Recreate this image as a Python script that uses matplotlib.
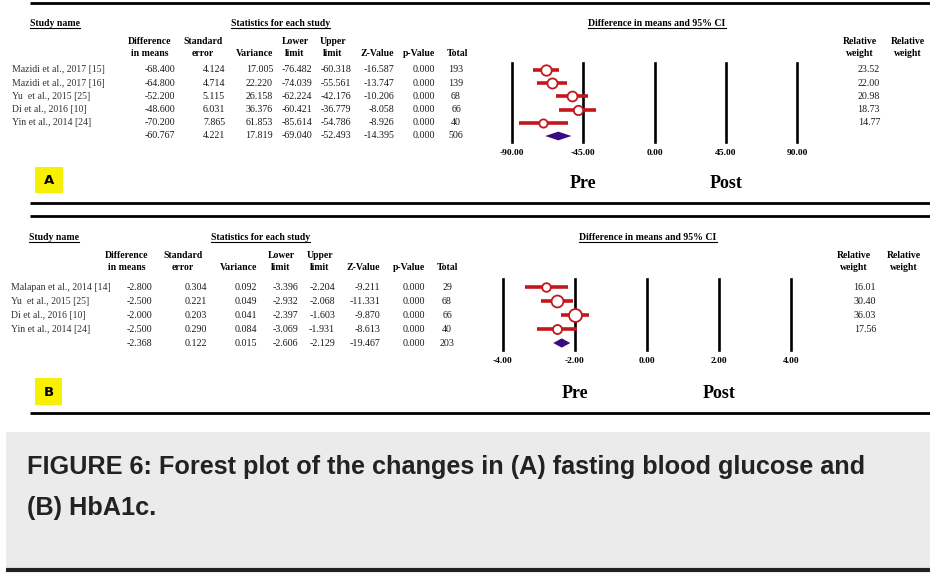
import matplotlib
matplotlib.use("Agg")
import matplotlib.pyplot as plt
import numpy as np
from matplotlib.patches import Rectangle

# Panel A: fasting blood glucose (last entry of each list = pooled row)
studies_a = ["Mazidi et al., 2017 [15]", "Mazidi et al., 2017 [16]", "Yu  et al., 2015 [25]",
             "Di et al., 2016 [10]", "Yin et al., 2014 [24]"]
diff_a = [-68.400, -64.800, -52.200, -48.600, -70.200, -60.767]
se_a = [4.124, 4.714, 5.115, 6.031, 7.865, 4.221]
var_a = [17.005, 22.220, 26.158, 36.376, 61.853, 17.819]
lower_a = [-76.482, -74.039, -62.224, -60.421, -85.614, -69.040]
upper_a = [-60.318, -55.561, -42.176, -36.779, -54.786, -52.493]
z_a = [-16.587, -13.747, -10.206, -8.058, -8.926, -14.395]
p_a = [0.000, 0.000, 0.000, 0.000, 0.000, 0.000]
total_a = [193, 139, 68, 66, 40, 506]
weight_a = [23.52, 22.00, 20.98, 18.73, 14.77]
ticks_a = [-90, -45, 0, 45, 90]

# Panel B: HbA1c
studies_b = ["Malapan et al., 2014 [14]", "Yu  et al., 2015 [25]", "Di et al., 2016 [10]",
             "Yin et al., 2014 [24]"]
diff_b = [-2.800, -2.500, -2.000, -2.500, -2.368]
se_b = [0.304, 0.221, 0.203, 0.290, 0.122]
var_b = [0.092, 0.049, 0.041, 0.084, 0.015]
lower_b = [-3.396, -2.932, -2.397, -3.069, -2.606]
upper_b = [-2.204, -2.068, -1.603, -1.931, -2.129]
z_b = [-9.211, -11.331, -9.870, -8.613, -19.467]
p_b = [0.000, 0.000, 0.000, 0.000, 0.000]
total_b = [29, 68, 66, 40, 203]
weight_b = [16.01, 30.40, 36.03, 17.56]
ticks_b = [-4, -2, 0, 2, 4]

caption_lines = ["FIGURE 6: Forest plot of the changes in (A) fasting blood glucose and",
                 "(B) HbA1c."]

W, H = 930, 573
SERIF = "Liberation Serif"
RED = "#c4161c"
PURPLE = "#3a0a80"

fig = plt.figure(figsize=(W / 100, H / 100), dpi=100)
bg = fig.add_axes([0, 0, 1, 1])
bg.set_xlim(0, W)
bg.set_ylim(H, 0)
bg.axis("off")

underline_me = []


def draw_panel(label, studies, cols, weights, ticks, lay):
    diff, se, var, lo, up, z, p, tot = cols
    # section titles
    t1 = bg.text(lay["name_x0"], lay["title_y"], "Study name", family=SERIF, weight="bold",
                 fontsize=7.0, ha="left", va="center")
    t2 = bg.text(lay["stat_x0"], lay["title_y"], "Statistics for each study", family=SERIF,
                 weight="bold", fontsize=7.0, ha="left", va="center")
    t3 = bg.text(lay["ci_cx"], lay["title_y"], "Difference in means and 95% CI", family=SERIF,
                 weight="bold", fontsize=7.0, ha="center", va="center")
    underline_me.extend([t1, t2, t3])

    # column headers
    hk = dict(family=SERIF, weight="bold", fontsize=7.0, va="center")
    for (x, ha, top, bot) in lay["headers"]:
        if top:
            bg.text(x, lay["h1"], top, ha=ha, **hk)
        bg.text(x, lay["h2"], bot, ha=ha, **hk)
    for x in lay["rw_cx"]:
        bg.text(x, lay["h1"], "Relative", ha="center", **hk)
        bg.text(x, lay["h2"], "weight", ha="center", **hk)

    # table body
    dk = dict(family=SERIF, fontsize=7.2, va="center", color="#1a1a1a")
    n = len(diff)
    for i in range(n):
        y = lay["row0"] + lay["dy"] * i
        if i < len(studies):
            bg.text(lay["name_x"], y, studies[i], ha="left", family=SERIF, fontsize=7.0,
                    va="center", color="#333333")
            bg.text(lay["rw_x"], y, f"{weights[i]:.2f}", ha="right", **dk)
        vals = [diff[i], se[i], var[i], lo[i], up[i], z[i], p[i]]
        for x, v in zip(lay["col_x"], vals):
            bg.text(x, y, f"{v:.3f}", ha="right", **dk)
        bg.text(lay["tot_x"], y, f"{tot[i]}", ha="center", **dk)

    # forest plot axes
    x0, x1 = lay["fx"]
    y0, y1 = lay["fy"]
    ax = fig.add_axes([x0 / W, 1 - y1 / H, (x1 - x0) / W, (y1 - y0) / H])
    ax.set_xlim(ticks[0], ticks[-1])
    ax.set_ylim((y1 - lay["row0"]) / lay["dy"], (y0 - lay["row0"]) / lay["dy"])
    ax.axis("off")
    ax.patch.set_alpha(0)
    for t in ticks:
        ax.axvline(t, color="black", lw=1.9, zorder=1, clip_on=False)
    rows = np.arange(len(studies))
    for i in rows:
        ax.plot([lo[i], up[i]], [i, i], color=RED, lw=2.6, solid_capstyle="butt", zorder=2,
                clip_on=False)
        ax.plot(diff[i], i, "o", ms=1.55 * np.sqrt(weights[i]), mfc="white", mec=RED,
                mew=1.3, zorder=3, clip_on=False)
    k = len(studies)
    hh = lay["dh"]
    ax.fill([lo[k], diff[k], up[k], diff[k]], [k, k - hh, k, k + hh], color=PURPLE,
            lw=0, zorder=3, clip_on=False)

    # tick labels, Pre / Post
    span = ticks[-1] - ticks[0]
    for t in ticks:
        px = x0 + (t - ticks[0]) / span * (x1 - x0)
        bg.text(px, lay["tick_y"], f"{t:.2f}", family=SERIF, weight="bold", fontsize=6.8,
                ha="center", va="center")
    for t, word in [(ticks[1], "Pre"), (ticks[3], "Post")]:
        px = x0 + (t - ticks[0]) / span * (x1 - x0)
        bg.text(px, lay["pp_y"], word, family=SERIF, weight="bold", fontsize=13,
                ha="center", va="center")

    # yellow panel label
    bx, by, bw, bh = lay["box"]
    bg.add_patch(Rectangle((bx, by), bw, bh, facecolor="#f7f000", edgecolor="none"))
    bg.text(bx + bw / 2, by + bh / 2 + 1, label, family="DejaVu Sans", weight="heavy",
            fontsize=9.5, ha="center", va="center")


lay_a = dict(
    title_y=23, h1=42, h2=53, row0=70, dy=13.2, name_x=12, name_x0=30, stat_x0=231, ci_cx=657,
    headers=[(150, "center", "Difference", "in means"), (203, "center", "Standard", "error"),
             (273, "right", None, "Variance"), (295, "center", "Lower", "limit"),
             (333, "center", "Upper", "limit"), (394, "right", None, "Z-Value"),
             (435, "right", None, "p-Value"), (468, "right", None, "Total")],
    col_x=[175, 225, 273, 312, 351, 394, 435], tot_x=456,
    rw_cx=[860, 908], rw_x=880,
    fx=(512, 797), fy=(63, 142), dh=0.33, tick_y=153, pp_y=183, box=(35, 167, 28, 26))

lay_b = dict(
    title_y=237, h1=256, h2=268, row0=287, dy=14.0, name_x=11, name_x0=29, stat_x0=211, ci_cx=648,
    headers=[(127, "center", "Difference", "in means"), (183, "center", "Standard", "error"),
             (257, "right", None, "Variance"), (281, "center", "Lower", "limit"),
             (320, "center", "Upper", "limit"), (380, "right", None, "Z-Value"),
             (425, "right", None, "p-Value"), (458, "right", None, "Total")],
    col_x=[152, 207, 257, 298, 335, 380, 425], tot_x=447,
    rw_cx=[854, 904], rw_x=876,
    fx=(503, 791), fy=(279, 350), dh=0.33, tick_y=361, pp_y=393, box=(35, 378, 27, 27))

draw_panel("A", studies_a, (diff_a, se_a, var_a, lower_a, upper_a, z_a, p_a, total_a),
           weight_a, ticks_a, lay_a)
draw_panel("B", studies_b, (diff_b, se_b, var_b, lower_b, upper_b, z_b, p_b, total_b),
           weight_b, ticks_b, lay_b)

# thick rules framing the panels
for y in [3, 203, 216, 413]:
    bg.plot([30, W], [y, y], color="black", lw=2.0, solid_capstyle="butt")

# caption box
bg.add_patch(Rectangle((6, 432), W - 6, 136, facecolor="#ebebeb", edgecolor="none"))
bg.plot([6, W], [570, 570], color="#222222", lw=3.0, solid_capstyle="butt")
for y, line in zip([467, 508], caption_lines):
    bg.text(27, y, line, family="Liberation Sans", weight="bold", fontsize=18.2,
            color="#222222", ha="left", va="center")

# underline the section titles
fig.canvas.draw()
inv = bg.transData.inverted()
for t in underline_me:
    bb = t.get_window_extent()
    (xa, ya), (xb, yb) = inv.transform([[bb.x0, bb.y0], [bb.x1, bb.y1]])
    bg.plot([xa, xb], [ya + 0.8, ya + 0.8], color="black", lw=0.8)

fig.savefig("out.png", dpi=100)
